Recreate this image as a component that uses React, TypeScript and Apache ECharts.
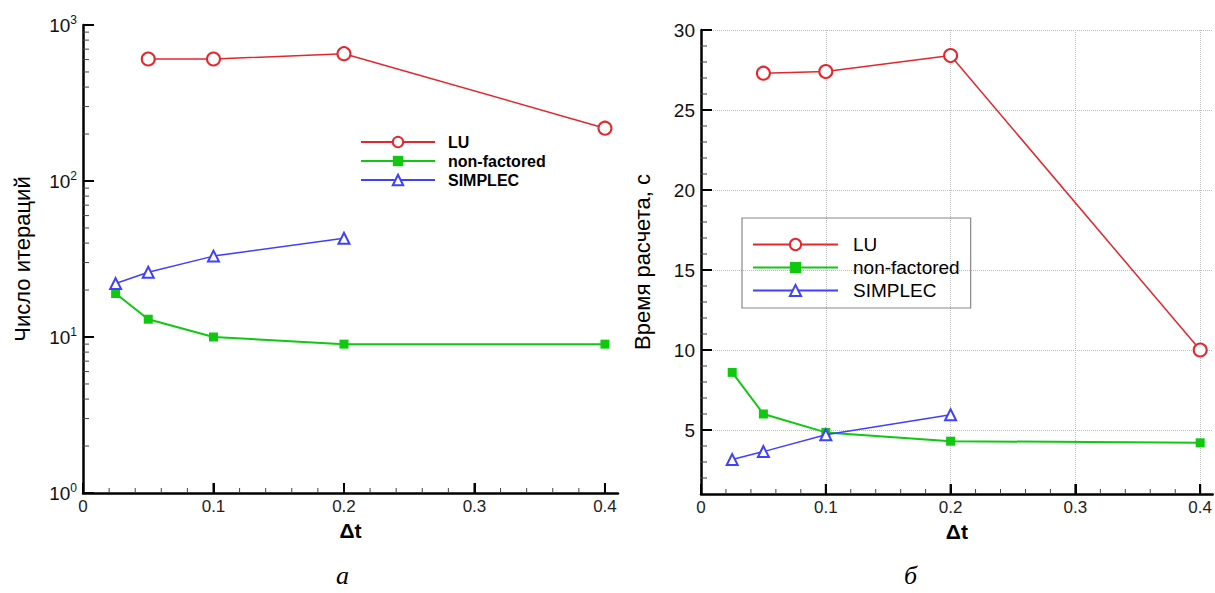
import React, { useEffect, useRef } from 'react';
import * as echarts from 'echarts';

const seriesNames = ['LU', 'non-factored', 'SIMPLEC'];

const dtLU = [0.05, 0.1, 0.2, 0.4];
const dtNF = [0.025, 0.05, 0.1, 0.2, 0.4];
const dtSIMPLEC = [0.025, 0.05, 0.1, 0.2];

const iterLU = [605, 605, 655, 218];
const iterNF = [19, 13, 10, 9, 9];
const iterSIMPLEC = [22, 26, 33, 43];

const timeLU = [27.3, 27.4, 28.4, 10.0];
const timeNF = [8.6, 6.0, 4.85, 4.3, 4.2];
const timeSIMPLEC = [3.15, 3.65, 4.7, 5.95];

const xMajorTicks = [0, 0.1, 0.2, 0.3, 0.4];
const xMinorTicks = [0.02, 0.04, 0.06, 0.08, 0.12, 0.14, 0.16, 0.18, 0.22, 0.24, 0.26, 0.28, 0.32, 0.34, 0.36, 0.38];
const iterMajorTicks = [1, 10, 100, 1000];
const iterMinorTicks = [2, 3, 4, 5, 6, 7, 8, 9, 20, 30, 40, 50, 60, 70, 80, 90, 200, 300, 400, 500, 600, 700, 800, 900];
const timeMajorTicks = [5, 10, 15, 20, 25, 30];
const timeMinorTicks = [2, 3, 4, 6, 7, 8, 9, 11, 12, 13, 14, 16, 17, 18, 19, 21, 22, 23, 24, 26, 27, 28, 29];

const X_MIN = 0;
const X_MAX = 0.41;
const ITER_MIN = 1;
const ITER_MAX = 1000;
const TIME_MIN = 1;
const TIME_MAX = 30;

const FONT = '"Liberation Sans", Arial, sans-serif';
const colors = { LU: '#e5262b', NF: '#10c810', SIMPLEC: '#4040ff' };

const pairs = (xs: number[], ys: number[]) => xs.map((x, i) => [x, ys[i]]);

function makeSeries(gi: number, lu: number[], nf: number[], sp: number[]) {
  return [
    {
      name: 'LU', type: 'line', xAxisIndex: gi, yAxisIndex: gi,
      data: pairs(dtLU, lu), symbol: 'emptyCircle', symbolSize: 13,
      itemStyle: { color: colors.LU, borderWidth: 1.5 },
      lineStyle: { color: colors.LU, width: 1.5 }, z: 3,
    },
    {
      name: 'non-factored', type: 'line', xAxisIndex: gi, yAxisIndex: gi,
      data: pairs(dtNF, nf), symbol: 'rect', symbolSize: 9,
      itemStyle: { color: colors.NF },
      lineStyle: { color: colors.NF, width: 2 }, z: 2,
    },
    {
      name: 'SIMPLEC', type: 'line', xAxisIndex: gi, yAxisIndex: gi,
      data: pairs(dtSIMPLEC, sp), symbol: 'emptyTriangle', symbolSize: 11,
      itemStyle: { color: colors.SIMPLEC, borderWidth: 1.3 },
      lineStyle: { color: colors.SIMPLEC, width: 1.5 }, z: 4,
    },
  ];
}

function xAxis(gi: number) {
  return {
    type: 'value', gridIndex: gi, position: 'bottom', min: X_MIN, max: X_MAX,
    name: 'Δt', nameLocation: 'middle', nameGap: 17,
    nameTextStyle: { fontFamily: FONT, fontSize: 21, fontWeight: 'bold', color: '#000' },
    axisLine: { show: true, lineStyle: { color: '#000', width: 2.5 } },
    axisTick: { show: true, inside: true, length: 10, lineStyle: { color: '#000', width: 2 }, customValues: xMajorTicks },
    axisLabel: { customValues: xMajorTicks, fontFamily: FONT, fontSize: 17, color: '#222', margin: 5 },
    splitLine: gi === 1 ? { show: true, lineStyle: { type: 'dotted', color: '#bbb', width: 1 } } : { show: false },
  };
}

const captions = [
  { type: 'text', left: 336, top: 562, style: { text: 'а', font: 'italic 26px "Liberation Serif", serif', fill: '#000' } },
  { type: 'text', left: 904, top: 562, style: { text: 'б', font: 'italic 26px "Liberation Serif", serif', fill: '#000' } },
];

export default function App() {
  const ref = useRef<HTMLDivElement>(null);
  useEffect(() => {
    if (!ref.current) return;
    const chart = echarts.init(ref.current, null, { renderer: 'svg' });
    const option: any = {
      animation: false,
      backgroundColor: '#fff',
      grid: [
        { left: 83, top: 25, right: 597, bottom: 100 },
        { left: 701, top: 30, right: 2, bottom: 99 },
      ],
      xAxis: [xAxis(0), xAxis(1)],
      yAxis: [
        {
          type: 'log', logBase: 10, gridIndex: 0, position: 'left', min: ITER_MIN, max: ITER_MAX,
          name: 'Число итераций', nameLocation: 'middle', nameGap: 50,
          nameTextStyle: { fontFamily: FONT, fontSize: 22, color: '#000' },
          axisLine: { show: true, lineStyle: { color: '#000', width: 2.5 } },
          axisTick: { show: true, inside: true, length: 11, lineStyle: { color: '#000', width: 2 }, customValues: iterMajorTicks },
          axisLabel: {
            customValues: iterMajorTicks, margin: 6, fontFamily: FONT, fontSize: 19, color: '#111',
            formatter: (v: number) => '10{s|' + Math.round(Math.log10(v)) + '}',
            rich: { s: { fontFamily: FONT, fontSize: 12, color: '#111', padding: [0, 0, 11, 0] } },
          },
          splitLine: { show: false },
        },
        {
          type: 'value', gridIndex: 1, position: 'left', min: TIME_MIN, max: TIME_MAX,
          name: 'Время расчета, с', nameLocation: 'middle', nameGap: 48,
          nameTextStyle: { fontFamily: FONT, fontSize: 22, color: '#000' },
          axisLine: { show: true, lineStyle: { color: '#000', width: 2.5 } },
          axisTick: { show: true, inside: true, length: 11, lineStyle: { color: '#000', width: 2 }, customValues: timeMajorTicks },
          axisLabel: { customValues: timeMajorTicks, margin: 6, fontFamily: FONT, fontSize: 19, color: '#111' },
          splitLine: { show: true, lineStyle: { type: 'dotted', color: '#bbb', width: 1 } },
        },
      ],
      legend: [
        {
          data: seriesNames, orient: 'vertical', left: 360, top: 134, padding: 0,
          itemWidth: 74, itemHeight: 13, itemGap: 3, selectedMode: false,
          textStyle: { fontFamily: FONT, fontSize: 16, fontWeight: 'bold', color: '#000', padding: [0, 0, 0, 8] },
        },
        {
          data: seriesNames, orient: 'vertical', left: 742, top: 218,
          padding: [17, 11, 8, 10], borderColor: '#888', borderWidth: 1.2,
          itemWidth: 85, itemHeight: 14, itemGap: 4, selectedMode: false,
          textStyle: { fontFamily: FONT, fontSize: 19, color: '#000', padding: [0, 0, 0, 10] },
        },
      ],
      graphic: captions,
      series: [
        ...makeSeries(0, iterLU, iterNF, iterSIMPLEC),
        ...makeSeries(1, timeLU, timeNF, timeSIMPLEC),
      ],
    };
    chart.setOption(option);

    // tick marks placed through each grid's own axes
    const ticks: any[] = [];
    const addTicks = (gi: number, vals: number[], dir: 'x' | 'y', fixed: number, len: number, w: number, color: string) => {
      vals.forEach((v) => {
        let p: any = null;
        try {
          p = chart.convertToPixel({ xAxisIndex: gi, yAxisIndex: gi } as any, dir === 'x' ? [v, fixed] : [fixed, v]);
        } catch (e) {
          p = null;
        }
        if (!p || isNaN(p[0]) || isNaN(p[1])) return;
        const shape = dir === 'x'
          ? { x1: p[0], y1: p[1], x2: p[0], y2: p[1] - len }
          : { x1: p[0], y1: p[1], x2: p[0] + len, y2: p[1] };
        ticks.push({ type: 'line', shape, silent: true, z: 100, style: { stroke: color, lineWidth: w } });
      });
    };
    addTicks(0, xMajorTicks, 'x', ITER_MIN, 10, 2, '#000');
    addTicks(0, xMinorTicks, 'x', ITER_MIN, 5, 1, '#444');
    addTicks(0, iterMajorTicks, 'y', X_MIN, 11, 2, '#000');
    addTicks(0, iterMinorTicks, 'y', X_MIN, 6, 1, '#444');
    addTicks(1, xMajorTicks, 'x', TIME_MIN, 10, 2, '#000');
    addTicks(1, xMinorTicks, 'x', TIME_MIN, 5, 1, '#444');
    addTicks(1, timeMajorTicks, 'y', X_MIN, 11, 2, '#000');
    addTicks(1, timeMinorTicks, 'y', X_MIN, 6, 1, '#444');
    chart.setOption({ graphic: [...captions, ...ticks] });

    return () => chart.dispose();
  }, []);
  return <div ref={ref} style={{ position: 'fixed', left: 0, top: 0, width: 1215, height: 593 }} />;
}
